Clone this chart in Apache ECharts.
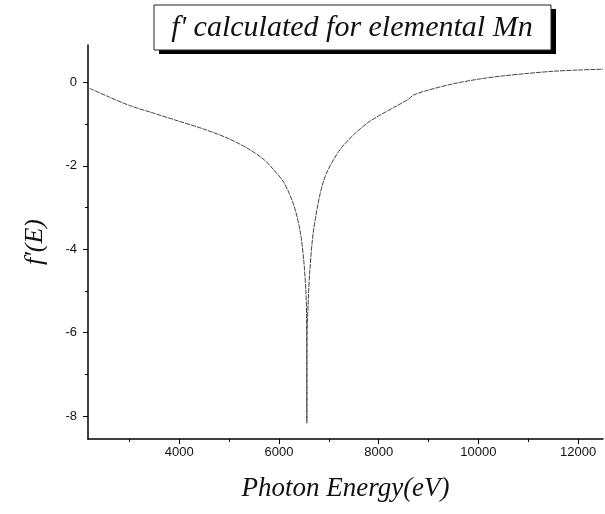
<!DOCTYPE html>
<html>
<head>
<meta charset="utf-8">
<script src="https://cdn.jsdelivr.net/npm/echarts@6/dist/echarts.min.js"></script>
<style>
  html, body { margin: 0; padding: 0; background: #fff; }
  #chart { width: 605px; height: 514px; }
</style>
</head>
<body>
<div id="chart"></div>
<script>
// photon energy (eV) and f'
const energy = [2200, 2600, 3000, 3500, 4000, 4500, 5000, 5400, 5700, 5900, 6100, 6300, 6430, 6500, 6540, 6555, 6560,
  6565, 6590, 6620, 6700, 6900, 7200, 7500, 7800, 8000, 8300, 8600, 8700, 9000, 9500, 10000, 10500, 11000, 11500, 12000, 12500];
const fPrime = [-0.14, -0.35, -0.55, -0.74, -0.93, -1.12, -1.35, -1.6, -1.85, -2.1, -2.4, -2.95, -3.6, -4.3, -5.0, -5.6, -8.17,
  -6.0, -5.2, -4.5, -3.5, -2.34, -1.65, -1.25, -0.95, -0.8, -0.6, -0.4, -0.3, -0.18, -0.03, 0.08, 0.16, 0.22, 0.27, 0.3, 0.32];

const xMajor = [4000, 6000, 8000, 10000, 12000];
const xMinor = [3000, 5000, 7000, 9000, 11000];
const yMajor = [-8, -6, -4, -2, 0];
const yMinor = [-7, -5, -3, -1];

const titleText = "f' calculated for elemental Mn";
const serif = '"Liberation Serif", "DejaVu Serif", serif';
const sans = '"Liberation Sans", Arial, sans-serif';

const xRange = { min: 2170, max: 12500 };
const yRange = { min: -8.55, max: 0.9 };

const chart = echarts.init(document.getElementById('chart'));

chart.setOption({
  animation: false,
  grid: { left: 88, right: 2, top: 45, bottom: 75 },
  xAxis: [{
    type: 'value',
    ...xRange,
    name: 'Photon Energy(eV)',
    nameLocation: 'middle',
    nameGap: 36,
    nameTextStyle: { fontFamily: serif, fontStyle: 'italic', fontSize: 27, color: '#111' },
    axisLine: { onZero: false, lineStyle: { color: '#000', width: 1.5 } },
    axisTick: { inside: false, length: 5, lineStyle: { color: '#000' }, customValues: xMajor },
    axisLabel: { fontFamily: sans, fontSize: 13, color: '#111', margin: 7, customValues: xMajor,
      formatter: v => String(v) },
    splitLine: { show: false }
  }, {
    type: 'value',
    ...xRange,
    position: 'bottom',
    axisLine: { show: false, onZero: false },
    axisTick: { inside: false, length: 3, lineStyle: { color: '#000' }, customValues: xMinor },
    axisLabel: { show: false },
    splitLine: { show: false }
  }],
  yAxis: [{
    type: 'value',
    ...yRange,
    name: "f'(E)",
    nameLocation: 'middle',
    nameGap: 40,
    nameRotate: 90,
    nameTextStyle: { fontFamily: serif, fontStyle: 'italic', fontSize: 26, color: '#111' },
    axisLine: { show: true, onZero: false, lineStyle: { color: '#000', width: 1.5 } },
    axisTick: { show: true, inside: false, length: 5, lineStyle: { color: '#000' }, customValues: yMajor },
    axisLabel: { fontFamily: sans, fontSize: 13, color: '#111', margin: 11, customValues: yMajor },
    splitLine: { show: false }
  }, {
    type: 'value',
    ...yRange,
    position: 'left',
    axisLine: { show: false, onZero: false },
    axisTick: { show: true, inside: false, length: 3, lineStyle: { color: '#000' }, customValues: yMinor },
    axisLabel: { show: false },
    splitLine: { show: false }
  }],
  graphic: [
    { type: 'rect', shape: { x: 159, y: 9, width: 397, height: 45 }, style: { fill: '#000' }, z: 100 },
    { type: 'rect', shape: { x: 154, y: 5, width: 397, height: 45 }, style: { fill: '#fff', stroke: '#222', lineWidth: 1 }, z: 101 },
    { type: 'text', x: 352, y: 28, z: 102,
      style: { text: titleText, fill: '#111', font: 'italic 30px ' + serif, align: 'center', verticalAlign: 'middle' } }
  ],
  series: [{
    type: 'line',
    data: energy.map((e, i) => [e, fPrime[i]]),
    showSymbol: false,
    smooth: 0.3,
    lineStyle: { color: '#444', width: 1, type: [5, 1] }
  }]
});
</script>
</body>
</html>
